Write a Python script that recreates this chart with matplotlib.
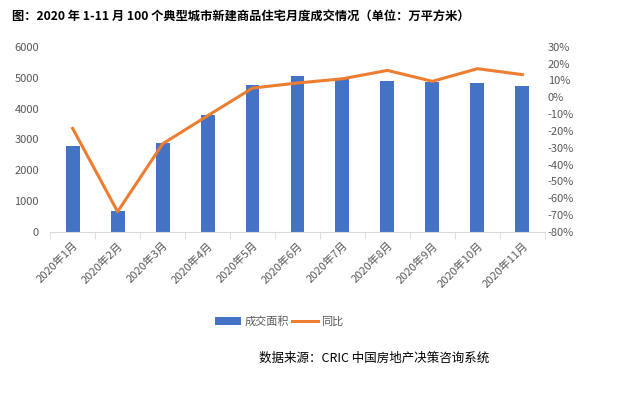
import matplotlib.pyplot as plt
import matplotlib.ticker as mtick
import numpy as np

plt.rcParams['font.family'] = ['Noto Sans CJK SC', 'DejaVu Sans']

months = ['2020年1月', '2020年2月', '2020年3月', '2020年4月', '2020年5月', '2020年6月',
          '2020年7月', '2020年8月', '2020年9月', '2020年10月', '2020年11月']
area = [2785, 685, 2870, 3790, 4760, 5065, 4950, 4905, 4875, 4840, 4720]
yoy = [-18.5, -68, -27.7, -11, 5.5, 8.5, 11, 16, 9.5, 17, 13.5]

title = '图：2020 年 1-11 月 100 个典型城市新建商品住宅月度成交情况（单位：万平方米）'
source = '数据来源：CRIC 中国房地产决策咨询系统'

gray = '#595959'
blue = '#4472C4'
orange = '#ED7D31'

fig = plt.figure(figsize=(6.35, 3.97), dpi=100)
ax = fig.add_axes([0.079, 0.416, 0.779, 0.466])
ax2 = ax.twinx()

x = np.arange(len(months))
bars = ax.bar(x, area, width=0.31, color=blue, label='成交面积', zorder=2)
line, = ax2.plot(x, yoy, color=orange, lw=2.2, label='同比', zorder=3)

ax.set_xlim(-0.5, len(months) - 0.5)
ax.set_ylim(0, 6000)
ax.set_yticks(range(0, 6001, 1000))
ax2.set_ylim(-80, 30)
ax2.set_yticks(range(-80, 31, 10))
ax2.yaxis.set_major_formatter(mtick.FuncFormatter(lambda v, p: '%d%%' % v))

for s in ['top', 'left', 'right']:
    ax.spines[s].set_visible(False)
    ax2.spines[s].set_visible(False)
ax2.spines['bottom'].set_visible(False)
ax.spines['bottom'].set_color('#D9D9D9')

ax.set_xticks(x)
ax.set_xticklabels(months, rotation=45, ha='right', rotation_mode='anchor')
ax.set_xticks(np.arange(-0.5, len(months)), minor=True)
ax.tick_params(axis='x', which='major', length=0, colors=gray, labelsize=8, pad=6)
ax.tick_params(axis='x', which='minor', length=5, color='#D9D9D9')
ax.tick_params(axis='y', length=0, colors=gray, labelsize=8, pad=8)
ax2.tick_params(axis='y', length=0, colors=gray, labelsize=8, pad=2)

fig.text(0.019, 0.958, title, fontsize=8.8, fontweight='bold', color='black', va='center')

fig.legend(handles=[bars, line], labels=['成交面积', '同比'], loc='center',
           bbox_to_anchor=(0.44, 0.19), ncol=2, frameon=False, fontsize=8,
           labelcolor=gray, handlelength=2.3, handletextpad=0.3, columnspacing=0.3)

fig.text(0.408, 0.098, source, fontsize=9, color='black', va='center')

fig.savefig('out.png', dpi=100)
